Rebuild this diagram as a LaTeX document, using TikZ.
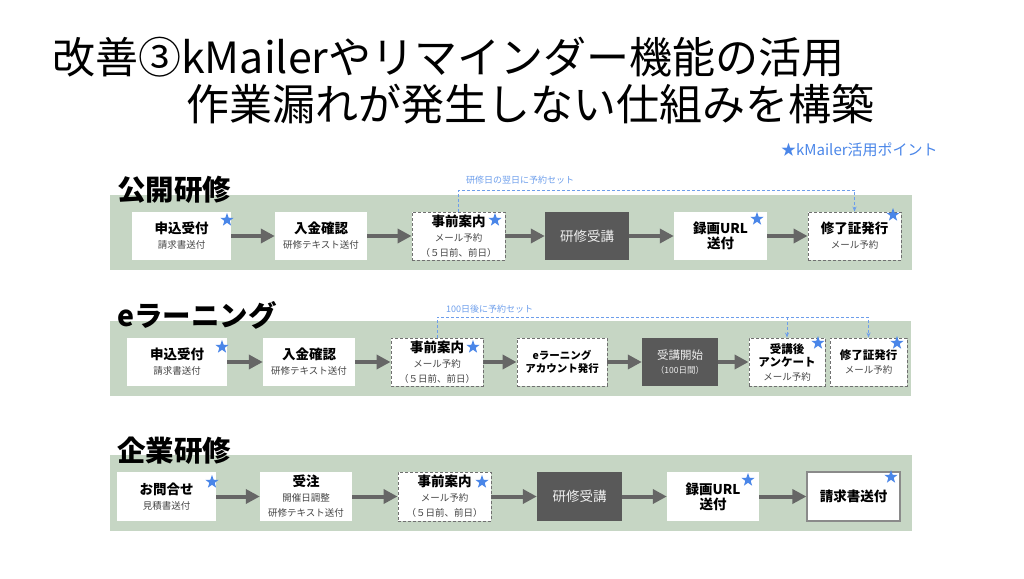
\documentclass[tikz,border=0pt]{standalone}
\usepackage{fontspec}
\setmainfont{Noto Sans CJK JP}
\usetikzlibrary{shapes.geometric, arrows.meta, positioning}

\definecolor{bandgreen}{HTML}{C6D6C4}
\definecolor{darkfill}{HTML}{595959}
\definecolor{darktext}{HTML}{EEEEEE}
\definecolor{arrowgray}{HTML}{666666}
\definecolor{dashgray}{HTML}{707070}
\definecolor{framegray}{HTML}{8A8A8A}
\definecolor{remindblue}{HTML}{6D9EEB}
\definecolor{starblue}{HTML}{4A86E8}
\definecolor{subgray}{HTML}{444444}

\newcommand\subtxt{\fontsize{9.5}{11}\selectfont\mdseries\color{subgray}}

\begin{document}
\begin{tikzpicture}[
  x=1pt, y=-1pt,
  card/.style={rectangle, fill=white, minimum height=48pt, inner sep=0pt,
    align=center, text=black, font=\fontsize{13.5}{15}\selectfont\bfseries},
  mailcard/.style={card, draw=dashgray, line width=0.9pt, dash pattern=on 3pt off 2pt},
  darkcard/.style={card, fill=darkfill, text=darktext, font=\fontsize{13.5}{15}\selectfont},
  endcard/.style={card, draw=framegray, line width=1.2pt},
  flow/.style={-{Triangle[length=14pt,width=14pt]}, line width=4pt, draw=arrowgray},
  remind/.style={-{Stealth[length=5pt,width=4pt]}, draw=remindblue, line width=0.8pt,
    dash pattern=on 3pt off 2pt},
  kstar/.style={star, star points=5, star point ratio=2.5, fill=starblue,
    minimum size=14pt, inner sep=0pt},
  rowhead/.style={anchor=west, inner sep=0pt, font=\fontsize{28.5}{32}\selectfont\bfseries},
  headline/.style={anchor=west, inner sep=0pt, font=\fontsize{43}{50}\selectfont},
  note/.style={anchor=west, inner sep=0pt, text=remindblue, font=\fontsize{9}{11}\selectfont}]

  \useasboundingbox (0,0) rectangle (1024,578);

  % title
  \node[headline] (t1) at (52,57) {改善③kMailerやリマインダー機能の活用};
  \node[headline] (t2) at (186,104) {作業漏れが発生しない仕組みを構築};
  \node[anchor=west, inner sep=0pt, text=starblue, font=\fontsize{15}{17}\selectfont]
    (key) at (781,150) {★kMailer活用ポイント};

  % bands
  \fill[bandgreen] (110,195) rectangle (912,270);
  \fill[bandgreen] (110,321) rectangle (911,396);
  \fill[bandgreen] (110,455) rectangle (912,531);

  \node[rowhead] (h1) at (117,190) {公開研修};
  \node[rowhead] (h2) at (117,315) {eラーニング};
  \node[rowhead] (h3) at (117,451) {企業研修};

  % row 1
  \node[card, minimum width=99pt] (a1) at (181.5,236) {申込受付\\{\subtxt 請求書送付}};
  \node[card, minimum width=92pt] (a2) at (321,236) {入金確認\\{\subtxt 研修テキスト送付}};
  \node[mailcard, minimum width=93pt] (a3) at (458.5,236)
    {事前案内\\{\subtxt メール予約}\\{\subtxt （５日前、前日）}};
  \node[darkcard, minimum width=84pt] (a4) at (587,236) {研修受講};
  \node[card, minimum width=93pt] (a5) at (720.5,236) {録画URL\\送付};
  \node[mailcard, minimum width=93pt] (a6) at (854.5,236) {修了証発行\\{\subtxt メール予約}};

  \draw[flow] (a1) -- (a2);
  \draw[flow] (a2) -- (a3);
  \draw[flow] (a3) -- (a4);
  \draw[flow] (a4) -- (a5);
  \draw[flow] (a5) -- (a6);

  \coordinate (r1) at (458.5,190);
  \draw[remind] (a3.north) -- (r1) -| (a6.north);
  \node[note] (n1) at (466,180) {研修日の翌日に予約セット};

  % row 2
  \node[card, minimum width=100pt] (b1) at (177,362) {申込受付\\{\subtxt 請求書送付}};
  \node[card, minimum width=92pt] (b2) at (309,362) {入金確認\\{\subtxt 研修テキスト送付}};
  \node[mailcard, minimum width=92pt] (b3) at (437,362)
    {事前案内\\{\subtxt メール予約}\\{\subtxt （５日前、前日）}};
  \node[mailcard, minimum width=90pt, font=\fontsize{10.5}{13}\selectfont\bfseries] (b4)
    at (562,362) {eラーニング\\アカウント発行};
  \node[darkcard, minimum width=76pt, font=\fontsize{11.5}{14}\selectfont] (b5) at (680,362)
    {受講開始\\{\fontsize{8.5}{10}\selectfont （100日間）}};
  \node[mailcard, minimum width=76pt, font=\fontsize{11.5}{13.5}\selectfont\bfseries] (b6)
    at (787,362) {受講後\\アンケート\\{\subtxt メール予約}};
  \node[mailcard, minimum width=77pt, font=\fontsize{11.5}{14}\selectfont\bfseries] (b7)
    at (868.5,362) {修了証発行\\{\subtxt メール予約}};

  \draw[flow] (b1) -- (b2);
  \draw[flow] (b2) -- (b3);
  \draw[flow] (b3) -- (b4);
  \draw[flow] (b4) -- (b5);
  \draw[flow] (b5) -- (b6);

  \coordinate (r2) at (437,317);
  \coordinate (r3) at (b6.north |- r2);
  \draw[remind] (b3.north) -- (r2) -| (b7.north);
  \draw[remind] (r3) -- (b6.north);
  \node[note] (n2) at (446,309) {100日後に予約セット};

  % row 3
  \node[card, minimum width=99pt, minimum height=49pt] (c1) at (166.5,496.5)
    {お問合せ\\{\subtxt 見積書送付}};
  \node[card, minimum width=92pt, minimum height=49pt] (c2) at (306,496.5)
    {受注\\{\subtxt 開催日調整}\\{\subtxt 研修テキスト送付}};
  \node[mailcard, minimum width=93pt, minimum height=49pt] (c3) at (444.5,496.5)
    {事前案内\\{\subtxt メール予約}\\{\subtxt （５日前、前日）}};
  \node[darkcard, minimum width=85pt, minimum height=49pt] (c4) at (579.5,496.5) {研修受講};
  \node[card, minimum width=92pt, minimum height=49pt] (c5) at (713,496.5) {録画URL\\送付};
  \node[endcard, minimum width=93pt, minimum height=49pt] (c6) at (853.5,496.5) {請求書送付};

  \draw[flow] (c1) -- (c2);
  \draw[flow] (c2) -- (c3);
  \draw[flow] (c3) -- (c4);
  \draw[flow] (c4) -- (c5);
  \draw[flow] (c5) -- (c6);

  % kMailer points
  \node[kstar] (s1) at (227,220) {};
  \node[kstar] (s2) at (495,220) {};
  \node[kstar] (s3) at (757,219) {};
  \node[kstar] (s4) at (893,215) {};
  \node[kstar] (s5) at (222,347) {};
  \node[kstar] (s6) at (473,347) {};
  \node[kstar] (s7) at (818,343) {};
  \node[kstar] (s8) at (897,343) {};
  \node[kstar] (s9) at (212,482) {};
  \node[kstar] (s10) at (482,482) {};
  \node[kstar] (s11) at (748,480) {};
  \node[kstar] (s12) at (891,477) {};
\end{tikzpicture}
\end{document}
